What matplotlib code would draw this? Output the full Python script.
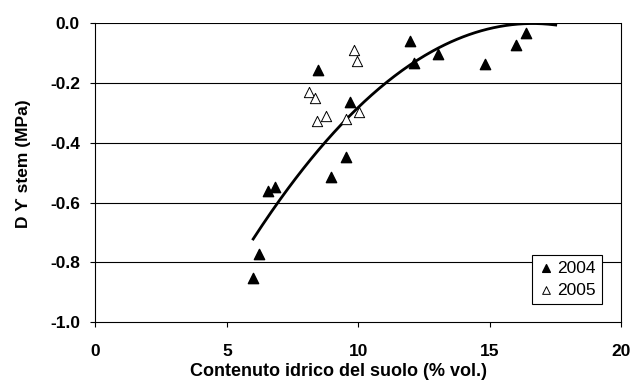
import numpy as np
import matplotlib
matplotlib.use("Agg")
import matplotlib.pyplot as plt

plt.rcParams['font.family'] = ['Liberation Sans', 'DejaVu Sans']

# 2004 (filled triangles)
x_2004 = [6.00, 6.24, 6.58, 6.82, 8.45, 8.97, 9.51, 9.69, 11.97, 12.13,
          13.03, 14.80, 16.00, 16.36]
y_2004 = [-0.853, -0.772, -0.560, -0.549, -0.158, -0.513, -0.448, -0.265,
          -0.060, -0.132, -0.104, -0.137, -0.073, -0.032]

# 2005 (open triangles)
x_2005 = [9.82, 9.96, 8.11, 8.36, 8.42, 8.78, 9.54, 10.02]
y_2005 = [-0.089, -0.126, -0.231, -0.249, -0.328, -0.310, -0.321, -0.298]

# polynomial trend line (2nd order)
trend_coef = [-0.0064, 0.2127, -1.768]
trend_range = [6.0, 17.5]

fig = plt.figure(figsize=(6.33, 3.87), dpi=100)
ax = fig.add_axes([0.1506, 0.168, 0.8312, 0.7718])

for yv in [-0.8, -0.6, -0.4, -0.2, 0.0]:
    ax.axhline(yv, color='black', lw=0.8, zorder=1)

x_fit = np.linspace(trend_range[0], trend_range[1], 200)
ax.plot(x_fit, np.polyval(trend_coef, x_fit), color='black', lw=2.0, zorder=3)

ax.scatter(x_2004, y_2004, marker='^', s=55, color='black', zorder=4,
           label='2004')
ax.scatter(x_2005, y_2005, marker='^', s=55, facecolor='white',
           edgecolor='black', linewidths=0.7, zorder=4, label='2005')

ax.set_xlim(0, 20)
ax.set_ylim(-1.0, 0.0)
ax.set_xticks([0, 5, 10, 15, 20])
ax.set_yticks([-1.0, -0.8, -0.6, -0.4, -0.2, 0.0])
ax.set_yticklabels(['-1.0', '-0.8', '-0.6', '-0.4', '-0.2', '0.0'])
ax.tick_params(direction='out', length=3.6, width=0.8, labelsize=12.5)
for lab in ax.get_xticklabels() + ax.get_yticklabels():
    lab.set_fontweight('bold')
ax.tick_params(axis='x', pad=12)
ax.tick_params(axis='y', pad=7.5)
for sp in ax.spines.values():
    sp.set_color('black')
    sp.set_linewidth(0.8)
ax.spines['top'].set_visible(False)

ax.set_xlabel('Contenuto idrico del suolo (% vol.)', fontsize=13,
              fontweight='bold')
ax.xaxis.set_label_coords(0.463, -0.137)
ax.set_ylabel('D \u03d2 stem (MPa)', fontsize=12.5, fontweight='bold')
ax.yaxis.set_label_coords(-0.122, 0.53)

leg = ax.legend(loc='lower right', bbox_to_anchor=(0.9635, 0.06),
                frameon=True, fancybox=False, edgecolor='black',
                framealpha=1.0, fontsize=12.5, handletextpad=0.2,
                borderpad=0.35, labelspacing=0.4, handlelength=0.9,
                borderaxespad=0.0, markerscale=0.75)
leg.get_frame().set_linewidth(0.8)

fig.savefig('out.png', dpi=100)
